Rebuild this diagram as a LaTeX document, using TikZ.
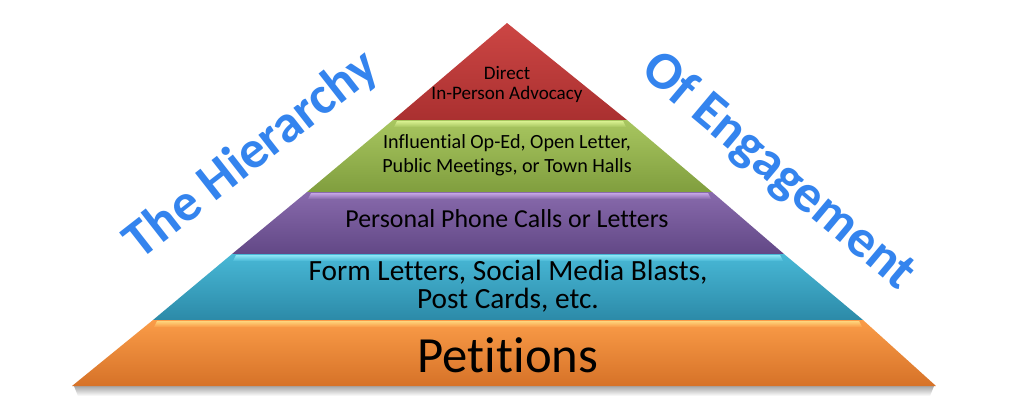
\documentclass[tikz,border=0pt]{standalone}
\usepackage{fontspec}
\setmainfont{Carlito}[Ligatures={NoCommon}]
\definecolor{redT}{RGB}{204,70,68}
\definecolor{redB}{RGB}{170,48,48}
\definecolor{grnT}{RGB}{168,198,96}
\definecolor{grnB}{RGB}{128,158,62}
\definecolor{grnH}{RGB}{222,246,150}
\definecolor{purT}{RGB}{136,106,172}
\definecolor{purB}{RGB}{98,72,134}
\definecolor{purH}{RGB}{204,172,236}
\definecolor{bluT}{RGB}{72,184,214}
\definecolor{bluB}{RGB}{44,138,168}
\definecolor{bluH}{RGB}{150,236,250}
\definecolor{orgT}{RGB}{250,156,72}
\definecolor{orgB}{RGB}{214,114,40}
\definecolor{orgH}{RGB}{255,220,130}
\definecolor{titleblue}{RGB}{52,132,238}
\tikzset{
  lbl/.style={align=center, text=black, inner sep=0pt},
  ttl/.style={text=titleblue, font=\bfseries\fontsize{40}{40}\selectfont, inner sep=0pt}
}
\newcommand{\pyrlayer}[9]{%
  % #1 ytop, #2 xlt, #3 xrt, #4 ybot, #5 xlb, #6 xrb, #7 top col, #8 bottom col, #9 highlight
  \shade[top color=#7, bottom color=#8] (#2,#1) -- (#3,#1) -- (#6,#4) -- (#5,#4) -- cycle;
  \shade[top color=#9, bottom color=#7, opacity=0.9] (#2+4,#1+1) -- (#3-4,#1+1) -- (#3-1,#1+7) -- (#2+1,#1+7) -- cycle;
}
\begin{document}
\begin{tikzpicture}[x=0.75pt, y={(0pt,-0.75pt)}]
  \fill[white] (0,0) rectangle (1024,412);
  \useasboundingbox (0,0) rectangle (1024,412);
  % shadow
  \shade[top color=black!35, bottom color=white] (74,386) -- (934,386) -- (930,396) -- (78,396) -- cycle;
  % layers
  \shade[top color=redT, bottom color=redB] (507,23) -- (627,120) -- (393,120) -- cycle;
  \pyrlayer{120}{393}{627}{192}{307}{712}{grnT}{grnB}{grnH}
  \pyrlayer{192}{307}{712}{254}{232}{784}{purT}{purB}{purH}
  \pyrlayer{254}{232}{784}{320}{153}{863}{bluT}{bluB}{bluH}
  \pyrlayer{320}{153}{863}{386}{72}{936}{orgT}{orgB}{orgH}
  % labels
  \node[lbl, font=\fontsize{14.3}{15}\selectfont] (direct) at (507,84) {Direct\\In-Person Advocacy};
  \node[lbl, font=\fontsize{15.1}{18}\selectfont] (oped) at (507,155) {Influential Op-Ed, Open Letter,\\Public Meetings, or Town Halls};
  \node[lbl, font=\fontsize{19.4}{21}\selectfont] (phone) at (507,219) {Personal Phone Calls or Letters};
  \node[lbl, font=\fontsize{22}{21}\selectfont] (form) at (508,286) {Form Letters, Social Media Blasts,\\Post Cards, etc.};
  \node[lbl, font=\fontsize{38}{40}\selectfont] (pet) at (508,355) {Petitions};
  % titles
  \node[ttl, rotate=38] (hier) at (252,155) {The Hierarchy};
  \node[ttl, rotate=-40] (eng) at (778,172) {Of Engagement};
\end{tikzpicture}
\end{document}
